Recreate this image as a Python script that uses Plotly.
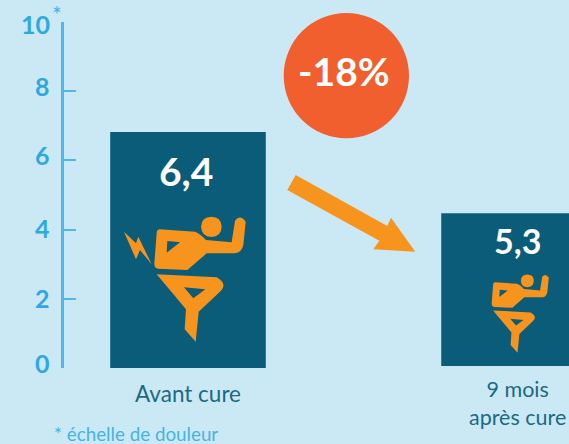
import plotly.graph_objects as go

categories = ["Avant cure", "9 mois<br>après cure"]
bar_tops = [6.82, 4.47]
bar_bases = [-0.03, 0.06]
value_labels = ["6,4", "5,3"]
y_ticks = [0, 2, 4, 6, 8, 10]
change_label = "-18%"
footnote = "* échelle de douleur"

W, H = 569, 444
L, T, B = 64, 22, 76
BG = "#cbe9f5"
BAR = "#0a5c78"
ORANGE = "#f7941e"
RED = "#f15f2e"
AXIS = "#4db6ea"
TICKTXT = "#2fa8e2"
FONT = "Lato, sans-serif"


def px(x, y):
    return (x - L) / (W - L), (H - B - y) / (H - B - T)


def path(cmds, f):
    out = []
    for c in cmds:
        if c == "Z":
            out.append("Z")
            continue
        pts = [px(*f(c[i], c[i + 1])) for i in range(1, len(c), 2)]
        out.append(c[0] + " ".join(f"{a:.5f},{b:.5f}" for a, b in pts))
    return " ".join(out)


TORSO = [("M", 178, 58), ("L", 285, 65), ("Q", 300, 70, 318, 90), ("L", 395, 97), ("L", 405, 32),
         ("Q", 420, 12, 437, 35), ("L", 430, 105), ("Q", 425, 128, 405, 130), ("L", 320, 130),
         ("L", 262, 180), ("L", 175, 176), ("Q", 162, 174, 163, 160), ("L", 170, 70), ("Q", 170, 60, 178, 58), "Z",
         ("M", 202, 93), ("L", 240, 97), ("L", 200, 128), "Z"]
LEG = [("M", 170, 193), ("L", 350, 202), ("Q", 385, 222, 360, 245), ("L", 296, 305), ("L", 287, 395),
       ("L", 254, 358), ("L", 258, 298), "Z",
       ("M", 252, 232), ("L", 316, 238), ("L", 280, 265), "Z"]
BOLT = [("M", 72, 65), ("L", 108, 100), ("L", 115, 80), ("L", 155, 163), ("L", 120, 120), ("L", 108, 148), "Z"]
HEAD = [("M", 303, 50), ("Q", 305, 20, 334, 20), ("Q", 364, 20, 365, 50), ("Q", 364, 80, 334, 81),
        ("Q", 305, 80, 303, 50), "Z"]


def big(x, y):
    return 100 + x / 3, 210 + y / 3


def small(x, y):
    a, b = big(x, y)
    return (a - 211.3) * 0.626 + 527.3, (b - 226.7) * 0.626 + 280.7


shapes = []
for f, parts in ((big, (TORSO, LEG, BOLT, HEAD)), (small, (TORSO, LEG, HEAD))):
    for p in parts:
        shapes.append(dict(type="path", xref="paper", yref="paper", path=path(p, f),
                           fillcolor=ORANGE, line_width=0, fillrule="evenodd", layer="above"))

# circle
cx0, cy0 = px(283.7, 138.3)
cx1, cy1 = px(409, 13)
shapes.append(dict(type="circle", xref="paper", yref="paper", x0=cx0, y0=cy0, x1=cx1, y1=cy1,
                   fillcolor=RED, line_width=0))
# arrow
ARROW = [("M", 295.7, 175), ("L", 387.3, 226), ("L", 391, 217.7), ("L", 415.3, 251.7), ("L", 373.3, 249.3),
         ("L", 379.3, 240.7), ("L", 287.3, 190), "Z"]
shapes.append(dict(type="path", xref="paper", yref="paper", path=path(ARROW, lambda x, y: (x, y)),
                   fillcolor="#f7941e", line_width=0))

fig = go.Figure(go.Bar(
    x=[0, 1], y=[t - b for t, b in zip(bar_tops, bar_bases)], base=bar_bases,
    width=0.47, marker=dict(color=BAR, line_width=0), cliponaxis=False, hoverinfo="skip",
))


def note(x, y, text, size, color, xanchor="center"):
    return dict(x=px(x, 0)[0], y=px(0, y)[1], xref="paper", yref="paper", text=text, showarrow=False,
                xanchor=xanchor, yanchor="middle", font=dict(family=FONT, size=size, color=color))


annots = [
    dict(x=-0.006, y=5.7, xref="x", yref="y", text=f"<b>{value_labels[0]}</b>", showarrow=False,
         font=dict(family=FONT, size=39, color="white")),
    dict(x=0.995, y=3.68, xref="x", yref="y", text=f"<b>{value_labels[1]}</b>", showarrow=False,
         font=dict(family=FONT, size=34, color="white")),
    note(344, 71, f"<b>{change_label}</b>", 39, "white"),
    note(52, 433, footnote, 18.8, "#46b3e6", "left"),
    note(57, 14, "*", 23, "#46b3e6"),
    note(188, 393, categories[0], 22.5, "#1a6a84"),
    note(517, 403, categories[1], 21.5, "#1a6a84"),
]
label_px = {0: 362.5, 2: 298, 4: 228, 6: 155, 8: 86, 10: 24}
for v in y_ticks:
    annots.append(note(52, label_px[v], f"<b>{v}</b>", 25, TICKTXT, "right"))

fig.update_layout(
    width=W, height=H, autosize=False, showlegend=False,
    margin=dict(l=L, r=0, t=T, b=B, pad=0),
    paper_bgcolor=BG, plot_bgcolor=BG,
    shapes=shapes, annotations=annots,
    xaxis=dict(range=[-0.3746, 1.151], tickmode="array", tickvals=[0, 1], showticklabels=False,
               showgrid=False, zeroline=False, showline=False, ticks=""),
    yaxis=dict(range=[0, 10], tickmode="array", tickvals=y_ticks, showticklabels=False,
               showgrid=False, zeroline=False, showline=True, linecolor=AXIS, linewidth=3,
               ticks="inside", ticklen=12, tickwidth=2, tickcolor=AXIS),
)
fig.write_html("out.html", config=dict(displayModeBar=False), post_script="document.body.style.margin='0';")
